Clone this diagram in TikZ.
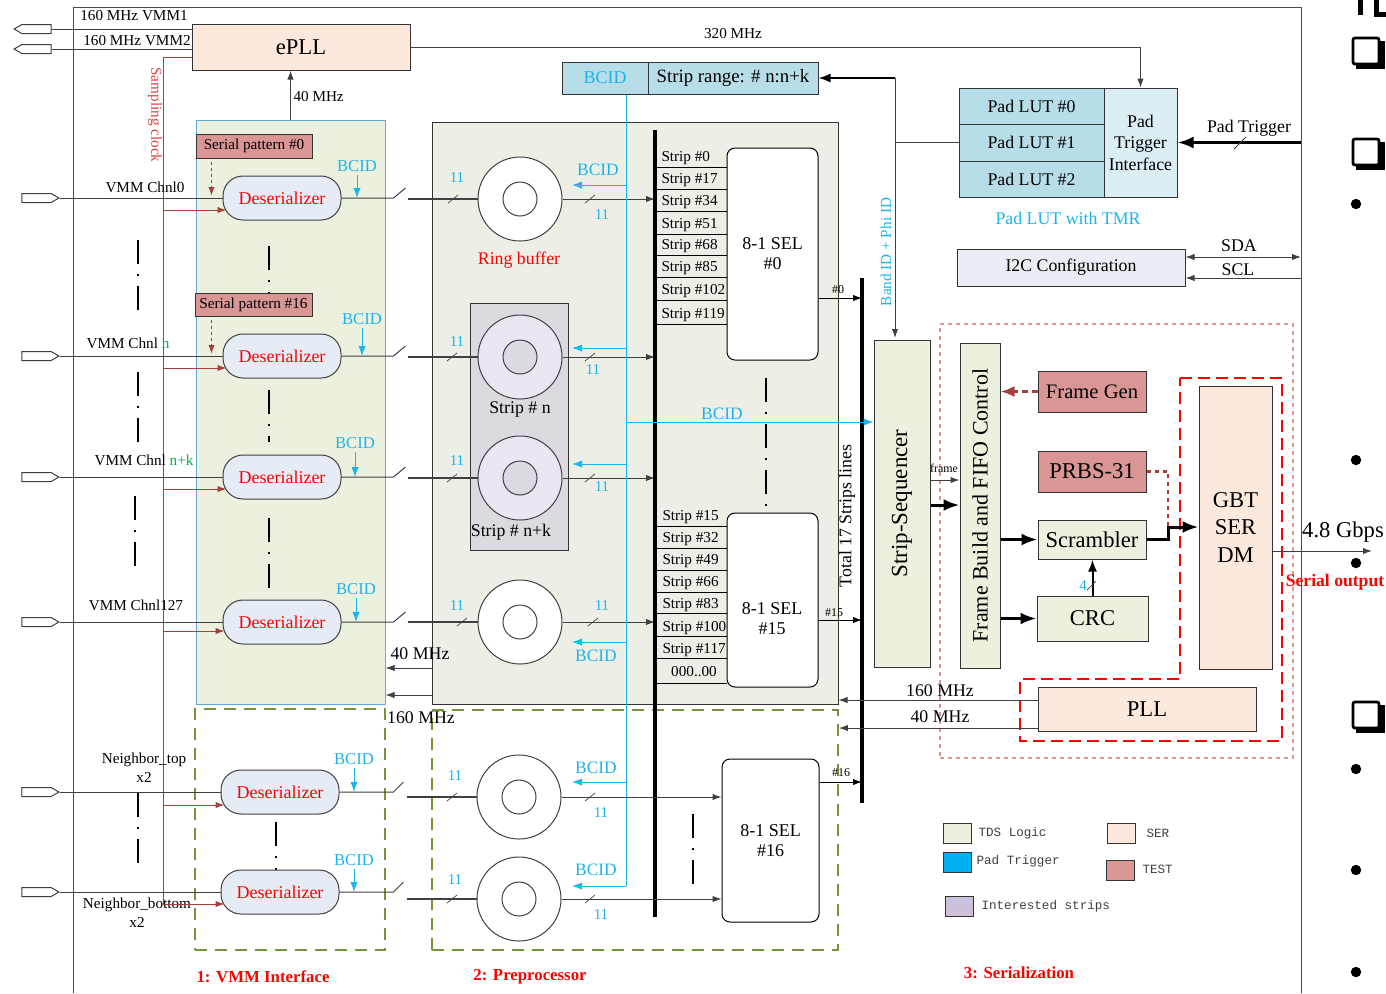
\documentclass[tikz,border=0pt]{standalone}
\usepackage{fontspec}
\setmainfont{Liberation Serif}
\setmonofont{Liberation Mono}
\usetikzlibrary{arrows.meta,calc,shapes.symbols}

\definecolor{tdsgreen}{HTML}{EBF1DE}
\definecolor{ppgray}{HTML}{EDEFE6}
\definecolor{serpeach}{HTML}{FCE9DC}
\definecolor{testrose}{HTML}{D99694}
\definecolor{padblue}{HTML}{B7DDE8}
\definecolor{padlight}{HTML}{DAEEF3}
\definecolor{padcyan}{HTML}{00B0F0}
\definecolor{bcidcyan}{HTML}{1CB4EC}
\definecolor{desblue}{HTML}{E6ECF6}
\definecolor{intlilac}{HTML}{DDD9E1}
\definecolor{ringlilac}{HTML}{ECE6F3}
\definecolor{keylilac}{HTML}{CCC0DA}
\definecolor{dashgreen}{HTML}{77933C}
\definecolor{clockred}{HTML}{A5403A}
\definecolor{clocktext}{HTML}{E0403A}
\definecolor{i2cgray}{HTML}{E9EDF4}
\definecolor{vmmblue}{HTML}{62A9DA}
\definecolor{chnlgreen}{HTML}{00B050}
\definecolor{wiregray}{HTML}{404040}

\begin{document}
\begin{tikzpicture}[>={Latex[length=4.5pt,width=3.2pt]},x=0.5pt,y=-0.5pt,line width=0.5pt]
\tikzstyle{sig port}=[signal,draw=wiregray,fill=white,signal from=nowhere,signal pointer angle=60,minimum width=18.5pt,minimum height=4.5pt,inner sep=0]
\tikzstyle{des node}=[rectangle,rounded corners=10pt,draw=wiregray,fill=desblue,text=red,minimum width=59pt,minimum height=22pt,inner sep=0,font=\fontsize{9}{10}\selectfont]
\tikzstyle{ring node}=[circle,draw=wiregray,fill=white,minimum size=42pt,inner sep=0]
\tikzstyle{hub node}=[circle,draw=wiregray,fill=white,minimum size=17pt,inner sep=0]
\tikzstyle{sel node}=[rectangle,rounded corners=4pt,draw=black,fill=white,minimum width=45.5pt,inner sep=0,align=center,font=\fontsize{9}{10}\selectfont]
\tikzstyle{box node}=[rectangle,draw=black!80,inner sep=0,align=center]

\tikzset{
	small label/.style={font=\fontsize{7.6}{9.5}\selectfont,inner sep=0,align=center},
	main label/.style={font=\fontsize{8.9}{10.8}\selectfont,inner sep=0,align=center},
	big label/.style={font=\fontsize{11.3}{13.8}\selectfont,inner sep=0,align=center},
	tiny label/.style={font=\fontsize{6}{7}\selectfont,inner sep=0},
	bcid label/.style={text=bcidcyan,font=\fontsize{8.3}{10}\selectfont,inner sep=0},
	count label/.style={text=bcidcyan,font=\fontsize{7.5}{9}\selectfont,inner sep=0},
	key label/.style={font=\ttfamily\fontsize{6.3}{8}\selectfont,anchor=west,inner sep=0,text=black!75},
	part label/.style={text=red,font=\bfseries\fontsize{8.4}{10}\selectfont,inner sep=0},
	wire/.style={draw=wiregray},
	bcid arrow/.style={draw=bcidcyan,-{Latex[length=5pt,width=3.6pt]}},
	clk arrow/.style={draw=clockred,->},
	pat arrow/.style={draw=clockred,line width=0.8pt,dash pattern=on 1.5pt off 1.5pt,->},
	fat arrow/.style={line width=1.5pt,-{Latex[length=8pt,width=6pt]}},
	dash dots/.style={line width=1.1pt,dash pattern=on 12pt off 5pt on 1pt off 5pt},
	group box/.style={draw=dashgreen,line width=0.9pt,dash pattern=on 6pt off 4pt},
	slash/.style={draw=wiregray,line width=0.35pt}
}
\useasboundingbox (0,0) rectangle (1386,993);

% chip frame
\draw[black!70] (73,993) -- (73,7) -- (1301,7) -- (1301,993);

% background blocks
\node[box node,draw=vmmblue,fill=tdsgreen,minimum width=94.5pt,minimum height=292pt] (vmm) at (290.5,412) {};
\node[box node,fill=ppgray,minimum width=203pt,minimum height=291pt] (pp) at (635,413) {};
\node[box node,group box,minimum width=95pt,minimum height=120.5pt] (vmmgrp) at (290,829.5) {};
\node[box node,group box,minimum width=203pt,minimum height=120pt] (ppgrp) at (635,830) {};
\node[box node,draw=testrose,line width=1pt,dash pattern=on 2pt off 2pt,minimum width=176.5pt,minimum height=217pt] (sergrp) at (1116.5,541) {};
\draw[red,line width=1.2pt,dash pattern=on 6pt off 3pt] (1180,378) -- (1282,378) -- (1282,741) -- (1020,741) -- (1020,679) -- (1180,679) -- cycle;
\node[box node,fill=intlilac,minimum width=49pt,minimum height=123.5pt] (strips) at (519,426.5) {};

% ePLL and clocks
\node[box node,fill=serpeach,minimum width=109pt,minimum height=23pt,big label] (epll) at (301,47) {ePLL};
\node[sig port,signal to=west] (vmm1) at (36.5,29) {};
\node[sig port,signal to=west] (vmm2) at (36.5,49) {};
\draw[wire] (vmm1.east) -- (vmm1.east -| epll.west);
\draw[wire] (vmm2.east) -- (vmm2.east -| epll.west);
\node[small label] (vmm1l) at (134,16) {160 MHz VMM1};
\node[small label] (vmm2l) at (137,41) {160 MHz VMM2};
\coordinate (sclk) at (163,57);
\draw[clockred] (sclk -| epll.west) -- (sclk) -- (163,904);
\node[small label,text=clocktext,rotate=-90] (sclkl) at (155,115) {Sampling clock};
\draw[wire,->] (vmm.north) -- (vmm.north |- epll.south);
\node[small label,anchor=west] (f40a) at (293,97) {40 MHz};

% dash-dot continuation marks
\draw[dash dots] (138,240) -- (138,318);
\draw[dash dots] (138,372) -- (138,442);
\draw[dash dots] (135,496) -- (135,570);
\draw[dash dots] (138,793) -- (138,865);
\draw[dash dots] (269,246) -- (269,320);
\draw[dash dots] (269,390) -- (269,442);
\draw[dash dots] (269,518) -- (269,592);
\draw[dash dots] (276,822) -- (276,870);
\draw[dash dots] (766,378) -- (766,506);
\draw[dash dots] (693,814) -- (693,885);

% VMM interface
\node[box node,fill=testrose,minimum width=58pt,minimum height=12pt,small label] (pat0) at (254,146) {Serial pattern \#0};
\node[box node,fill=testrose,minimum width=58.5pt,minimum height=11.5pt,small label] (pat16) at (253.5,304.5) {Serial pattern \#16};

\node[des node] (des0) at (282,198) {Deserializer};
\node[des node] (desn) at (282,356) {Deserializer};
\node[des node] (desk) at (282,477) {Deserializer};
\node[des node] (des127) at (282,622) {Deserializer};
\node[des node] (destop) at (280,792) {Deserializer};
\node[des node] (desbot) at (280,892) {Deserializer};

\node[sig port,signal to=east] (in0) at (36.5,198) {};
\node[sig port,signal to=east] (inn) at (36.5,356) {};
\node[sig port,signal to=east] (ink) at (36.5,477) {};
\node[sig port,signal to=east] (in127) at (36.5,622) {};
\node[sig port,signal to=east] (intop) at (36.5,792) {};
\node[sig port,signal to=east] (inbot) at (36.5,892) {};

\draw[wire] (in0.east) -- (des0.west);
\draw[wire] (inn.east) -- (desn.west);
\draw[wire] (ink.east) -- (desk.west);
\draw[wire] (in127.east) -- (des127.west);
\draw[wire] (intop.east) -- (destop.west);
\draw[wire] (inbot.east) -- (desbot.west);

\node[small label] (c0) at (145,187) {VMM Chnl0};
\node[small label] (cn) at (128,343) {VMM Chnl \textcolor{chnlgreen}{n}};
\node[small label] (ck) at (144,460) {VMM Chnl \textcolor{chnlgreen}{n+k}};
\node[small label] (c127) at (136,605) {VMM Chnl127};
\node[small label] (ctop) at (144,768) {Neighbor\_top\\x2};
\node[small label] (cbot) at (137,913) {Neighbor\_bottom\\x2};

\draw[clk arrow] ($(sclk |- des0.west)+(0,12)$) -- ($(des0.west)+(4,12)$);
\draw[clk arrow] ($(sclk |- desn.west)+(0,12)$) -- ($(desn.west)+(4,12)$);
\draw[clk arrow] ($(sclk |- desk.west)+(0,12)$) -- ($(desk.west)+(4,12)$);
\draw[clk arrow] ($(sclk |- des127.west)+(0,9)$) -- ($(des127.west)+(2,9)$);
\draw[clk arrow] ($(sclk |- destop.west)+(0,13)$) -- ($(destop.west)+(4,13)$);
\draw[clk arrow] ($(sclk |- desbot.west)+(0,12)$) -- ($(desbot.west)+(4,12)$);

\draw[pat arrow] ($(pat0.south west)+(16,3)$) -- ($(pat0.south west |- des0.west)+(16,-2)$);
\draw[pat arrow] ($(pat16.south west)+(17,3)$) -- ($(pat16.south west |- desn.west)+(17,-2)$);

\node[bcid label] (bc0) at (357,166) {BCID};
\node[bcid label] (bcn) at (362,319) {BCID};
\node[bcid label] (bck) at (355,443) {BCID};
\node[bcid label] (bc127) at (356,589) {BCID};
\node[bcid label] (bctop) at (354,759) {BCID};
\node[bcid label] (bcbot) at (354,860) {BCID};
\draw[bcid arrow] ($(bc0.south)+(0,3)$) -- (bc0.south |- des0.east);
\draw[bcid arrow] ($(bcn.south)+(0,3)$) -- (bcn.south |- desn.east);
\draw[bcid arrow] ($(bck.south)+(0,3)$) -- (bck.south |- desk.east);
\draw[bcid arrow] ($(bc127.south)+(0,3)$) -- (bc127.south |- des127.east);
\draw[bcid arrow] ($(bctop.south)+(0,3)$) -- (bctop.south |- destop.east);
\draw[bcid arrow] ($(bcbot.south)+(0,3)$) -- (bcbot.south |- desbot.east);

\draw[wire] (des0.east) -- ++(52,0) -- ++(12,-10);
\draw[wire] (desn.east) -- ++(52,0) -- ++(12,-10);
\draw[wire] (desk.east) -- ++(52,0) -- ++(12,-10);
\draw[wire] (des127.east) -- ++(52,0) -- ++(12,-10);
\draw[wire] (destop.east) -- ++(54,0) -- ++(10,-10);
\draw[wire] (desbot.east) -- ++(54,0) -- ++(10,-10);

% preprocessor
\node[box node,fill=padblue,minimum width=43pt,minimum height=16pt,text=bcidcyan,font=\fontsize{9}{10}\selectfont] (bcidbox) at (605,78) {BCID};
\node[box node,fill=padblue,minimum width=85pt,minimum height=16pt,font=\fontsize{9.4}{10}\selectfont] (range) at (733,78) {Strip range: \# n:n+k};

\node[ring node] (rb0) at (520,199) {};
\node[ring node,fill=ringlilac] (rbn) at (520,357) {};
\node[ring node,fill=ringlilac] (rbk) at (520,478) {};
\node[ring node] (rb127) at (520,622) {};
\node[ring node] (rbtop) at (519,797) {};
\node[ring node] (rbbot) at (519,899) {};
\node[hub node] (hub0) at (rb0) {};
\node[hub node,fill=intlilac] (hubn) at (rbn) {};
\node[hub node,fill=intlilac] (hubk) at (rbk) {};
\node[hub node] (hub127) at (rb127) {};
\node[hub node] (hubtop) at (rbtop) {};
\node[hub node] (hubbot) at (rbbot) {};
\node[main label,text=red] (rblabel) at (519,260) {Ring buffer};
\node[main label] (sn) at (520,409) {Strip \# n};
\node[main label] (snk) at (511,532) {Strip \# n+k};

\draw[wire,line width=0.9pt] ($(rb0.west)+(-70,0)$) -- (rb0.west);
\draw[wire,line width=0.9pt] ($(rbn.west)+(-70,0)$) -- (rbn.west);
\draw[wire,line width=0.9pt] ($(rbk.west)+(-70,0)$) -- (rbk.west);
\draw[wire,line width=0.9pt] ($(rb127.west)+(-70,0)$) -- (rb127.west);
\draw[wire,line width=0.9pt] ($(rbtop.west)+(-70,0)$) -- (rbtop.west);
\draw[wire,line width=0.9pt] ($(rbbot.west)+(-70,0)$) -- (rbbot.west);

\coordinate (bustop) at (655,130);
\coordinate (busbot) at (655,917);
\draw[wire,->] (rb0.east) -- (rb0.east -| bustop);
\draw[wire,->] (rbn.east) -- (rbn.east -| bustop);
\draw[wire,->] (rbk.east) -- (rbk.east -| bustop);
\draw[wire,->] (rb127.east) -- (rb127.east -| bustop);

% slashes with bus widths
\draw[slash] (448,203) -- ++(10,-8);  \draw[slash] (585,203) -- ++(10,-8);
\draw[slash] (447,361) -- ++(10,-8);  \draw[slash] (585,361) -- ++(10,-8);
\draw[slash] (447,482) -- ++(10,-8);  \draw[slash] (585,482) -- ++(10,-8);
\draw[slash] (457,626) -- ++(10,-8);  \draw[slash] (588,626) -- ++(10,-8);
\draw[slash] (447,801) -- ++(10,-8);  \draw[slash] (585,801) -- ++(10,-8);
\draw[slash] (447,903) -- ++(10,-8);  \draw[slash] (585,903) -- ++(10,-8);
\node[count label] at (457,178) {11};  \node[count label] at (602,215) {11};
\node[count label] at (457,342) {11};  \node[count label] at (593,370) {11};
\node[count label] at (457,461) {11};  \node[count label] at (602,487) {11};
\node[count label] at (457,606) {11};  \node[count label] at (602,606) {11};
\node[count label] at (455,776) {11};  \node[count label] at (601,813) {11};
\node[count label] at (455,880) {11};  \node[count label] at (601,915) {11};

% BCID distribution
\coordinate (bcidend) at (626,886);
\draw[bcidcyan] (bcidbox.south -| bcidend) -- (bcidend);
\draw[bcid arrow] (bcidend |- 0,185) -- (572,185);
\draw[bcid arrow] (bcidend |- 0,348) -- (572,348);
\draw[bcid arrow] (bcidend |- 0,464) -- (572,464);
\draw[bcid arrow] (bcidend |- 0,642) -- (572,642);
\draw[bcid arrow] (bcidend |- 0,782) -- (572,782);
\draw[bcid arrow] (bcidend) -- (572,886);
\node[bcid label,font=\fontsize{8.7}{10}\selectfont] (bcp0) at (598,170) {BCID};
\node[bcid label,font=\fontsize{8.7}{10}\selectfont] (bcp127) at (596,656) {BCID};
\node[bcid label,font=\fontsize{8.7}{10}\selectfont] (bcptop) at (596,768) {BCID};
\node[bcid label,font=\fontsize{8.7}{10}\selectfont] (bcpbot) at (596,870) {BCID};

% strip bus and selectors
\draw[line width=2pt] (bustop) -- (busbot);
\node[sel node,minimum height=106pt] (sel0) at (772.5,254) {8-1 SEL\\\#0};
\node[sel node,minimum height=87pt] (sel15) at (772.5,600) {};
\node[sel node,draw=none,fill=none] (sel15t) at (772,619) {8-1 SEL\\\#15};
\node[sel node,minimum width=48.5pt,minimum height=81.5pt] (sel16) at (770.5,840.5) {8-1 SEL\\\#16};

\foreach \y in {167,189,211,234,255,277,300,324}
	\draw (bustop |- 0,\y) -- (sel0.west |- 0,\y);
\foreach \y in {526,548,570,592,613,636,658,683}
	\draw (bustop |- 0,\y) -- (sel15.west |- 0,\y);
\foreach \y/\s in {158/0,180/17,202/34,225/51,246/68,268/85,291/102,315/119}
	\node[small label,anchor=west] at (661,\y) {Strip \#\s};
\foreach \y/\s in {517/15,539/32,561/49,583/66,605/83,628/100,650/117}
	\node[small label,anchor=west] at (662,\y) {Strip \#\s};
\node[small label] (zeros) at (694,672) {000..00};

\draw[wire,->] (rbtop.east) -- (rbtop.east -| sel16.west);
\draw[wire,->] (rbbot.east) -- (rbbot.east -| sel16.west);

\coordinate (tottop) at (862,278);
\coordinate (totbot) at (862,803);
\draw[line width=2pt] (tottop) -- (totbot);
\draw[->] (sel0.east |- 0,298) -- (tottop |- 0,298);
\draw[->] (sel15.east |- 0,620) -- (tottop |- 0,620);
\draw[->] (sel16.east |- 0,782) -- (tottop |- 0,782);
\node[tiny label] (o0) at (838,290) {\#0};
\node[tiny label] (o15) at (834,613) {\#15};
\node[tiny label] (o16) at (841,773) {\#16};
\node[main label,rotate=90] (total) at (847,516) {Total 17 Strips lines};

% pad trigger path
\node[box node,fill=padblue,minimum width=72.5pt,minimum height=18pt,main label] (lut0) at (1031.5,106) {Pad LUT \#0};
\node[box node,fill=padblue,minimum width=72.5pt,minimum height=18.5pt,main label] (lut1) at (1031.5,142.5) {Pad LUT \#1};
\node[box node,fill=padblue,minimum width=72.5pt,minimum height=18pt,main label] (lut2) at (1031.5,179) {Pad LUT \#2};
\node[box node,fill=padlight,minimum width=36.5pt,minimum height=54.5pt,main label] (pti) at (1140.5,142.5) {Pad\\Trigger\\Interface};
\node[main label,text=bcidcyan] (tmr) at (1068,218) {Pad LUT with TMR};
\draw[wire,->] (epll.east) -| (pti.north);
\node[small label] (f320) at (733,34) {320 MHz};
\draw[fat arrow] (pti.east -| 1301,0) -- (pti.east);
\draw[slash,line width=0.5pt] (1234,149) -- (1246,137);
\node[main label] (padtrg) at (1249,128) {Pad Trigger};

\coordinate (band) at (895,78);
\draw[wire] (lut1.west) -- (lut1.west -| band);
\draw[line width=0.9pt,-{Latex[length=6pt,width=4.5pt]}] (band) -- (range.east);
\draw[wire,->] (band) -- (band |- 0,338);
\node[small label,text=bcidcyan,rotate=90] (bandl) at (886,252) {Band ID + Phi ID};

\node[box node,fill=i2cgray,minimum width=114pt,minimum height=18.5pt,main label] (i2c) at (1071,267.5) {I2C Configuration};
\draw[wire,<->] (i2c.east |- 0,257) -- (1301,257);
\draw[wire,<-] (i2c.east |- 0,278) -- (1301,278);
\node[main label] (sda) at (1239,246) {SDA};
\node[main label] (scl) at (1238,270) {SCL};

% serialization
\node[box node,fill=tdsgreen,minimum width=28pt,minimum height=163.5pt] (seq) at (902,503.5) {};
\node[big label,rotate=90,font=\fontsize{11.5}{13}\selectfont] (seqt) at (seq) {Strip-Sequencer};
\node[box node,fill=tdsgreen,minimum width=20pt,minimum height=162.5pt] (fifo) at (980,505.5) {};
\node[big label,rotate=90,font=\fontsize{11}{13}\selectfont] (fifot) at (fifo) {Frame Build and FIFO Control};
\draw[bcid arrow] (bcidend |- 0,422) -- (seq.west |- 0,422);
\node[bcid label,font=\fontsize{8.7}{10}\selectfont] (bcseq) at (722,414) {BCID};
\draw[wire,->] (seq.east |- 0,480) -- (fifo.west |- 0,480);
\node[tiny label] (frm) at (944,468) {frame};
\draw[fat arrow] (seq.east |- 0,505) -- (fifo.west |- 0,505);

\node[box node,fill=testrose,minimum width=54pt,minimum height=20.5pt,font=\fontsize{10.3}{12}\selectfont] (fgen) at (1092,391.5) {Frame Gen};
\node[box node,fill=testrose,minimum width=54pt,minimum height=20.5pt,big label] (prbs) at (1092,471.5) {PRBS-31};
\node[box node,fill=tdsgreen,minimum width=54pt,minimum height=19.5pt,big label] (scr) at (1092,539.5) {Scrambler};
\node[box node,fill=tdsgreen,minimum width=55.5pt,minimum height=22.5pt,big label] (crc) at (1092.5,618.5) {CRC};
\node[box node,fill=serpeach,minimum width=36.5pt,minimum height=141.5pt,big label] (gbt) at (1235.5,527.5) {GBT\\SER\\DM};
\node[box node,fill=serpeach,minimum width=109pt,minimum height=22pt,big label] (pll) at (1147,709) {PLL};

\coordinate (scrj) at (1168,527);
\draw[clockred,line width=1.3pt,dash pattern=on 3pt off 2pt,-{Latex[length=7pt,width=5.5pt]}] (fgen.west) -- (fgen.west -| fifo.east);
\draw[clockred,line width=1.3pt,dash pattern=on 2pt off 2pt] (prbs.east) -| (scrj);
\draw[fat arrow] (scr.east) -| (scrj) -- (scrj -| gbt.west);
\draw[fat arrow] (fifo.east |- scr.west) -- (scr.west);
\draw[fat arrow] (fifo.east |- crc.west) -- (crc.west);
\draw[line width=1pt,-{Latex[length=6pt,width=4.5pt]}] (crc.north) -- (crc.north |- scr.south);
\draw[slash] (1087,590) -- ++(9,-9);
\node[count label] (crc4) at (1083,586) {4};

\coordinate (sout) at (1372,551);
\draw[wire,->] (gbt.east |- sout) -- (sout);
\node[big label] (gbps) at (1343,532) {4.8 Gbps};
\node[text=red,font=\bfseries\fontsize{8.8}{10}\selectfont,inner sep=0] (serout) at (1335,582) {Serial output};

\draw[wire,->] (pll.west |- 0,700) -- (pp.east |- 0,700);
\draw[wire,->] (pll.west |- 0,728) -- (ppgrp.east |- 0,728);
\node[main label] (f160b) at (940,691) {160 MHz};
\node[main label] (f40b) at (940,717) {40 MHz};
\draw[wire,->] (pp.west |- 0,668) -- (vmm.east |- 0,668);
\draw[wire,->] (pp.west |- 0,695) -- (vmm.east |- 0,695);
\node[main label] (f40c) at (420,654) {40 MHz};
\node[main label] (f160c) at (421,718) {160 MHz};

% legend
\node[box node,fill=tdsgreen,minimum width=14pt,minimum height=10pt] (keytds) at (957,833) {};
\node[key label] (keytdsl) at (978,833) {TDS Logic};
\node[box node,fill=padcyan,minimum width=14pt,minimum height=10pt] (keypad) at (957,862) {};
\node[key label] (keypadl) at (976,861) {Pad Trigger};
\node[box node,fill=keylilac,minimum width=14pt,minimum height=10pt] (keyint) at (959.5,906) {};
\node[key label] (keyintl) at (981,906) {Interested strips};
\node[box node,fill=serpeach,minimum width=14pt,minimum height=10pt] (keyser) at (1121.5,833) {};
\node[key label] (keyserl) at (1146,833) {SER};
\node[box node,fill=testrose,minimum width=14pt,minimum height=10pt] (keytest) at (1120.5,870) {};
\node[key label] (keytestl) at (1142,869) {TEST};

\node[part label] (part1) at (263,977) {1: VMM Interface};
\node[part label] (part2) at (530,977) {2: Preprocessor};
\node[part label] (part3) at (1019,973) {3: Serialization};

% slide marks at the right edge
\draw[line width=2.5pt] (1360,0) -- (1360,15);
\draw[line width=2.5pt] (1376,0) -- (1376,14) -- (1386,14);
\foreach \y in {52,153,716} {
	\draw[line width=1.4pt,rounded corners=1pt] (1353,\y-14) rectangle (1379,\y+12);
	\draw[line width=3pt] (1356,\y+14) -- (1382,\y+14) -- (1382,\y-11);
}
\foreach \y in {204,460,563,769,870,972}
	\fill (1356,\y) circle (2.6pt);
\end{tikzpicture}
\end{document}
